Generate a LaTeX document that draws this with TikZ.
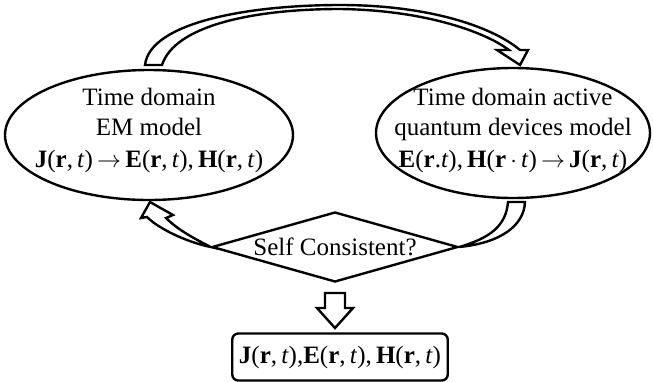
\documentclass[tikz,border=0pt]{standalone}
\usepackage{fontspec}
\setmainfont{Liberation Serif}
\usepackage{tikz}
\usetikzlibrary{positioning,shapes,arrows}

\newcommand{\fieldrt}[1]{\textbf{#1}(\textbf{r},\,\textit{t})}

\begin{document}
\begin{tikzpicture}[
  x=0.5pt, y=-0.5pt,
  line width=1.2pt,
  every node/.style={font=\fontsize{12.5}{15}\selectfont},
  modelnode/.style={draw,ellipse,inner sep=0pt,minimum height=65pt},
  modeltext/.style={align=center,inner sep=0pt},
  checknode/.style={draw,diamond,aspect=3.5,inner sep=0pt,minimum width=123pt,minimum height=35pt},
  resnode/.style={draw,rounded corners=3pt,minimum width=102pt,minimum height=23.5pt},
  blockarrow/.style={draw,fill=white,line join=miter}
]
\useasboundingbox (0,0) rectangle (653,381);
\node[modelnode,minimum width=144pt] (em) at (149,135) {};
\node[modeltext,yshift=2.25pt] (emtext) at (em.center)
  {Time domain\\EM model\\[1pt]\fieldrt{J}\,$\rightarrow$\,\fieldrt{E},\,\fieldrt{H}};
\node[modelnode,minimum width=137pt] (qd) at (513,133) {};
\node[modeltext,yshift=1.5pt] (qdtext) at (qd.center)
  {Time domain active\\quantum devices model\\[1pt]\textbf{E}(\textbf{r}.\textit{t}),\,\textbf{H}(\textbf{r}\,$\cdot$\,\textit{t})\,$\rightarrow$\,\fieldrt{J}};
\node[checknode] (check) at (335,247) {Self Consistent?};
\node[resnode] (res) at (340,357) {\fieldrt{J},\fieldrt{E},\,\fieldrt{H}};
% curved block arrows
\draw[blockarrow] (145,65) .. controls (150,22) and (250,5) .. (340,5)
  .. controls (425,5) and (490,25) .. (520,50) -- (528,50) -- (520,65) -- (497,50) -- (509,50)
  .. controls (482,30) and (420,10) .. (340,9) .. controls (255,9) and (175,25) .. (162,65) -- cycle;
\draw[blockarrow] (check.west) .. controls (190,243) and (160,230) .. (147,217) -- (141,218)
  -- (150,202) -- (173,215) -- (166,218) .. controls (178,230) and (195,239) .. (check.west) -- cycle;
\draw[blockarrow] (check.east) .. controls (490,238) and (506,226) .. (508,202) -- (525,202)
  .. controls (524,226) and (500,243) .. (check.east) -- cycle;
\draw[blockarrow] (325,293) -- (345,293) -- (345,308) -- (353,308) -- (335,328) -- (317,308) -- (325,308) -- cycle;
\end{tikzpicture}
\end{document}
